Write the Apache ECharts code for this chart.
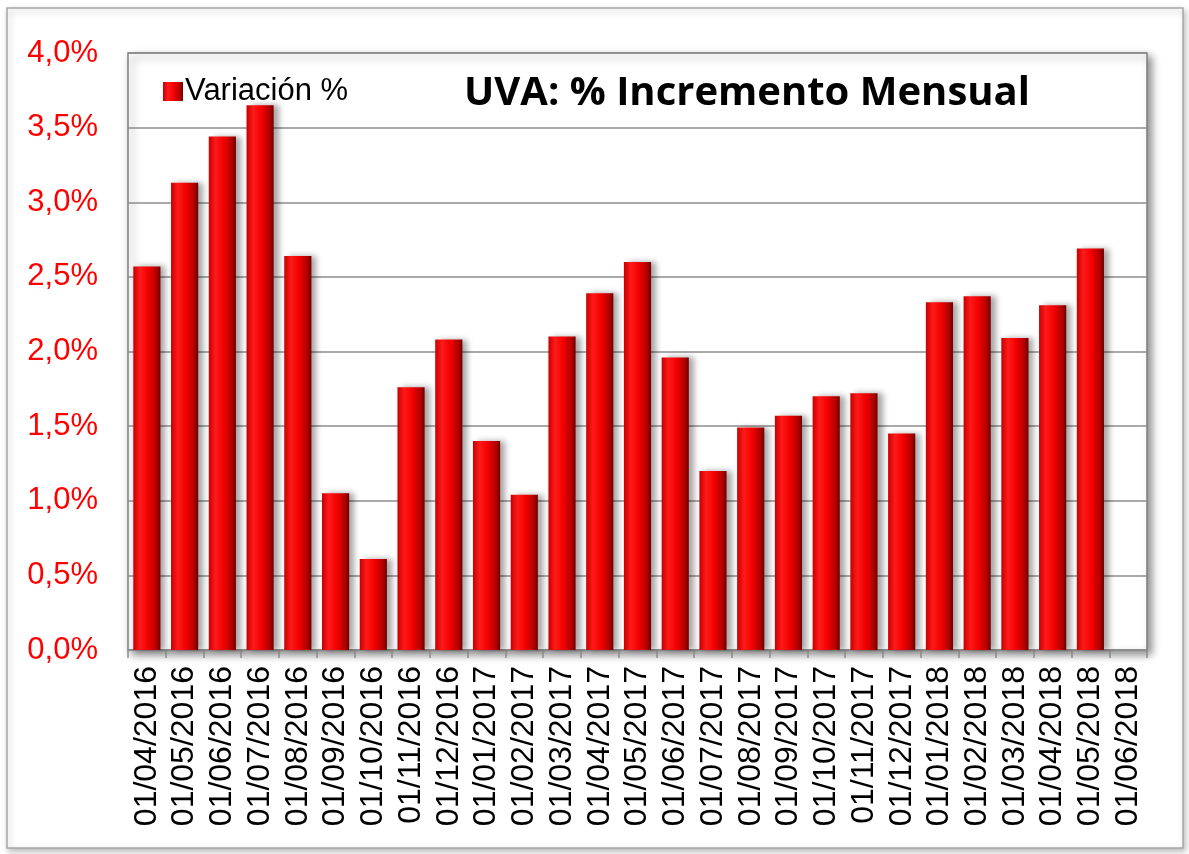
<!DOCTYPE html>
<html>
<head>
<meta charset="utf-8">
<script src="https://cdn.jsdelivr.net/npm/echarts@6/dist/echarts.min.js"></script>
<style>
  html, body { margin: 0; padding: 0; background: #fff; }
  #chart { width: 1189px; height: 854px; }
</style>
</head>
<body>
<div id="chart"></div>
<script>
// monthly dates (dd/mm/yyyy)
const categories = [
  '01/04/2016', '01/05/2016', '01/06/2016', '01/07/2016', '01/08/2016', '01/09/2016',
  '01/10/2016', '01/11/2016', '01/12/2016', '01/01/2017', '01/02/2017', '01/03/2017',
  '01/04/2017', '01/05/2017', '01/06/2017', '01/07/2017', '01/08/2017', '01/09/2017',
  '01/10/2017', '01/11/2017', '01/12/2017', '01/01/2018', '01/02/2018', '01/03/2018',
  '01/04/2018', '01/05/2018', '01/06/2018'
]

// variación mensual en %
const variacion = [
  2.57, 3.13, 3.44, 3.65, 2.64, 1.05,
  0.61, 1.76, 2.08, 1.40, 1.04, 2.10,
  2.39, 2.60, 1.96, 1.20, 1.49, 1.57,
  1.70, 1.72, 1.45, 2.33, 2.37, 2.09,
  2.31, 2.69, null
]

const yTicks = { min: 0, max: 4, interval: 0.5 }

const chart = echarts.init(document.getElementById('chart'))

const barGradient = new echarts.graphic.LinearGradient(0, 0, 1, 0, [
  { offset: 0, color: '#c80000' },
  { offset: 0.25, color: '#ff1a1a' },
  { offset: 0.55, color: '#f20000' },
  { offset: 0.85, color: '#b00000' },
  { offset: 1, color: '#6e0000' },
])

chart.setOption({
  animation: false,
  backgroundColor: '#fff',
  graphic: [{
    type: 'rect',
    z: -10,
    shape: { x: 7, y: 8, width: 1176, height: 840 },
    style: {
      fill: '#fff',
      stroke: '#a6a6a6',
      lineWidth: 1.5,
      shadowBlur: 6,
      shadowColor: 'rgba(0,0,0,0.25)',
      shadowOffsetX: 2,
      shadowOffsetY: 3,
    },
  }],
  title: {
    text: 'UVA: % Incremento Mensual',
    left: 742,
    top: 69,
    textAlign: 'center',
    textStyle: {
      fontFamily: 'Open Sans',
      fontWeight: 'bold',
      fontSize: 40,
      color: '#000',
    },
  },
  legend: {
    left: 158,
    top: 71,
    itemWidth: 20,
    itemHeight: 19,
    itemGap: 4,
    icon: 'rect',
    textStyle: { fontFamily: 'Liberation Sans', fontSize: 31, color: '#000', padding: [0, 0, 0, -3] },
    data: ['Variación %'],
  },
  grid: {
    left: 128,
    right: 42,
    top: 53,
    bottom: 204,
    show: true,
    backgroundColor: '#fff',
    borderColor: '#7f7f7f',
    borderWidth: 1.5,
    shadowBlur: 8,
    shadowColor: 'rgba(0,0,0,0.45)',
    shadowOffsetX: 4,
    shadowOffsetY: 4,
  },
  xAxis: {
    type: 'category',
    data: categories,
    axisLine: { lineStyle: { color: '#8c8c8c', width: 1.5 } },
    axisTick: { show: true, length: 8, lineStyle: { color: '#8c8c8c', width: 1.5 } },
    axisLabel: {
      rotate: 90,
      interval: 0,
      margin: 16,
      fontFamily: 'Liberation Sans',
      fontSize: 32,
      color: '#000',
    },
  },
  yAxis: {
    type: 'value',
    min: yTicks.min,
    max: yTicks.max,
    interval: yTicks.interval,
    axisLine: { show: false },
    axisTick: { show: false },
    splitLine: { lineStyle: { color: '#8c8c8c', width: 1.5 } },
    axisLabel: {
      margin: 30,
      fontFamily: 'Liberation Sans',
      fontSize: 31,
      color: '#ff0000',
      formatter: (v) => v.toFixed(1).replace('.', ',') + '%',
    },
  },
  series: [{
    name: 'Variación %',
    type: 'bar',
    data: variacion,
    barWidth: '72%',
    itemStyle: {
      color: barGradient,
      shadowBlur: 6,
      shadowColor: 'rgba(0,0,0,0.35)',
      shadowOffsetX: 5,
      shadowOffsetY: 0,
    },
  }],
})
</script>
</body>
</html>
